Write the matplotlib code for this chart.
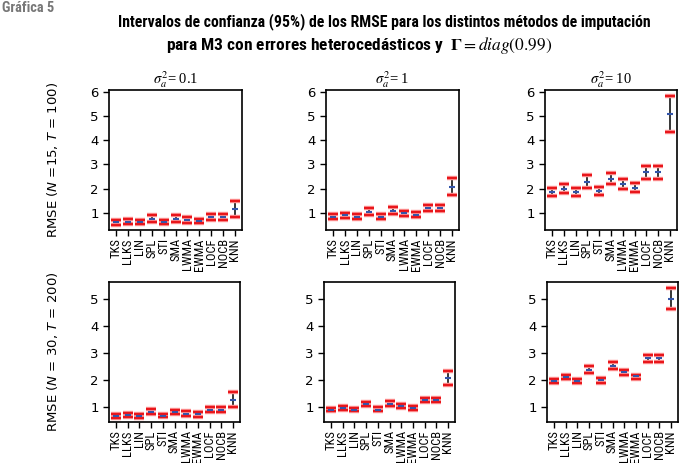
import matplotlib
matplotlib.use("Agg")
import matplotlib.pyplot as plt
from matplotlib import font_manager

# look for a narrow sans font, fall back to DejaVu Sans
narrow = None
stretch = "normal"
names = {f.name for f in font_manager.fontManager.ttflist}
for cand in ["Liberation Sans Narrow", "DejaVu Sans Condensed", "Roboto Condensed", "Open Sans Condensed"]:
    if cand in names:
        narrow = cand
        break
if narrow is None:
    for f in font_manager.fontManager.ttflist:
        if f.name == "DejaVu Sans" and "condensed" in str(f.stretch).lower():
            narrow = "DejaVu Sans"
            stretch = "condensed"
            break
if narrow is None:
    narrow = "DejaVu Sans"

methods = ["TKS", "LLKS", "LIN", "SPL", "STI", "SMA", "LWMA", "EWMA", "LOCF", "NOCB", "KNN"]
col_titles = [r"$\sigma_a^2$= 0.1", r"$\sigma_a^2$= 1", r"$\sigma_a^2$= 10"]
row_labels = [r"RMSE ($N$ =15, $T$ = 100)", r"RMSE ($N$ = 30, $T$ = 200)"]

# N=15, T=100
mean_15_01 = [0.63, 0.65, 0.63, 0.77, 0.63, 0.77, 0.72, 0.68, 0.85, 0.85, 1.15]
low_15_01 = [0.52, 0.55, 0.53, 0.63, 0.53, 0.63, 0.60, 0.57, 0.72, 0.72, 0.82]
high_15_01 = [0.72, 0.75, 0.72, 0.90, 0.72, 0.90, 0.82, 0.77, 0.98, 0.98, 1.50]

mean_15_1 = [0.85, 0.90, 0.85, 1.05, 0.85, 1.08, 1.00, 0.93, 1.20, 1.20, 2.08]
low_15_1 = [0.75, 0.80, 0.75, 0.92, 0.75, 0.95, 0.88, 0.82, 1.07, 1.07, 1.75]
high_15_1 = [0.95, 1.00, 0.95, 1.20, 0.95, 1.23, 1.10, 1.05, 1.33, 1.33, 2.43]

mean_15_10 = [1.85, 2.00, 1.88, 2.28, 1.90, 2.42, 2.20, 2.03, 2.68, 2.68, 5.08]
low_15_10 = [1.70, 1.82, 1.72, 2.02, 1.73, 2.20, 2.00, 1.85, 2.42, 2.42, 4.32]
high_15_10 = [2.05, 2.18, 2.05, 2.55, 2.07, 2.65, 2.40, 2.23, 2.95, 2.95, 5.82]

# N=30, T=200
mean_30_01 = [0.67, 0.69, 0.67, 0.82, 0.68, 0.80, 0.75, 0.72, 0.88, 0.88, 1.25]
low_30_01 = [0.60, 0.62, 0.60, 0.72, 0.61, 0.72, 0.67, 0.64, 0.80, 0.80, 0.98]
high_30_01 = [0.74, 0.77, 0.75, 0.92, 0.75, 0.90, 0.83, 0.80, 0.98, 0.98, 1.55]

mean_30_1 = [0.90, 0.95, 0.90, 1.10, 0.90, 1.12, 1.03, 0.97, 1.25, 1.25, 2.08]
low_30_1 = [0.83, 0.88, 0.83, 1.02, 0.83, 1.04, 0.95, 0.90, 1.17, 1.17, 1.83]
high_30_1 = [0.97, 1.02, 0.97, 1.18, 0.98, 1.20, 1.10, 1.05, 1.33, 1.33, 2.33]

mean_30_10 = [1.97, 2.10, 1.97, 2.38, 1.98, 2.52, 2.28, 2.13, 2.80, 2.80, 5.00]
low_30_10 = [1.88, 2.02, 1.88, 2.25, 1.88, 2.42, 2.20, 2.05, 2.68, 2.68, 4.62]
high_30_10 = [2.05, 2.20, 2.05, 2.52, 2.08, 2.65, 2.38, 2.20, 2.93, 2.93, 5.42]

panels = [
    [(mean_15_01, low_15_01, high_15_01), (mean_15_1, low_15_1, high_15_1), (mean_15_10, low_15_10, high_15_10)],
    [(mean_30_01, low_30_01, high_30_01), (mean_30_1, low_30_1, high_30_1), (mean_30_10, low_30_10, high_30_10)],
]

W, H = 680, 463
fig = plt.figure(figsize=(6.8, 4.63), dpi=100)

# pixel boxes (left, right, top, bottom)
boxes = [
    [(109, 242, 90, 230), (326, 459, 90, 230), (545, 677, 90, 230)],
    [(109, 240, 282, 422), (324, 455, 282, 422), (547, 678, 282, 422)],
]
ylims = [(0.3, 6.07), (0.44, 5.63)]
yticks = [[1, 2, 3, 4, 5, 6], [1, 2, 3, 4, 5]]

fig.canvas.draw()
renderer = fig.canvas.get_renderer()


def fit_text(txt, target_px, size0):
    # shrink/grow font size so the text is about target_px wide
    w = txt.get_window_extent(renderer).width
    txt.set_fontsize(size0 * target_px / w)


for r in range(2):
    for c in range(3):
        l, rr, t, b = boxes[r][c]
        ax = fig.add_axes([l / W, 1 - b / H, (rr - l) / W, (b - t) / H])
        mean, low, high = panels[r][c]
        x = list(range(len(methods)))
        ax.vlines(x, low, high, color="black", lw=1.1, zorder=2)
        for ends in (low, high):
            ax.plot(x, ends, ls="none", marker="_", ms=7.5, mew=3.2, color="#ff9e9e", zorder=3)
            ax.plot(x, ends, ls="none", marker="_", ms=7, mew=1.7, color="#e8161b", zorder=4)
        ax.plot(x, mean, ls="none", marker="_", ms=4, mew=1.5, color="#3355aa", zorder=5)
        ax.set_xlim(-0.6, len(methods) - 0.4)
        ax.set_ylim(*ylims[r])
        ax.set_yticks(yticks[r])
        ax.set_xticks(x)
        ax.set_xticklabels(methods, rotation=90, family=narrow, stretch=stretch, fontsize=9)
        ax.tick_params(axis="y", labelsize=9.5, length=4, width=1)
        ax.tick_params(axis="x", length=4, width=1, pad=2)
        for s in ax.spines.values():
            s.set_linewidth(1.2)
        if r == 0:
            ax.set_title(col_titles[c], fontsize=10.5, pad=4, family="Liberation Serif",
                         math_fontfamily="stix")
        if c == 0:
            ax.set_ylabel(row_labels[r], fontsize=9.5, labelpad=22)

g = fig.text(0.003, 0.997, "Gráfica 5", fontsize=8.5, fontweight="bold", color="#777777",
             ha="left", va="top", family=narrow, stretch=stretch)
fit_text(g, 52, 8.5)
t1 = fig.text(384 / W, 1 - 22 / H, "Intervalos de confianza (95%) de los RMSE para los distintos métodos de imputación",
              fontsize=12.5, fontweight="bold", ha="center", va="center", family=narrow, stretch=stretch)
fit_text(t1, 533, 12.5)
t2 = fig.text(359 / W, 1 - 46 / H,
              r"para M3 con errores heterocedásticos y  $\mathbf{\Gamma} = \mathit{diag}(0.99)$",
              fontsize=12.5, fontweight="bold", ha="center", va="center", family=narrow, stretch=stretch,
              math_fontfamily="stix")
fit_text(t2, 388, 12.5)

fig.savefig("out.png", dpi=100)
